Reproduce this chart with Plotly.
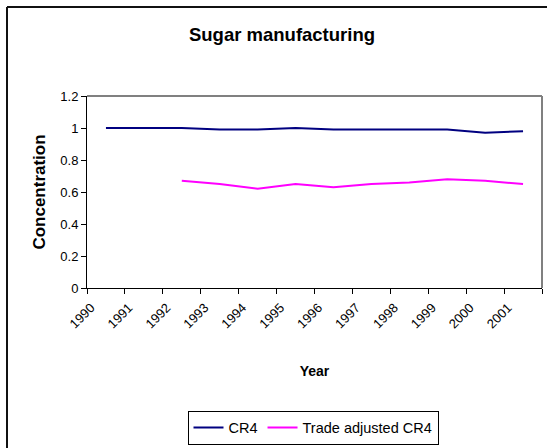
import plotly.graph_objects as go

years = ["1990", "1991", "1992", "1993", "1994", "1995", "1996", "1997", "1998", "1999", "2000", "2001"]
cr4 = [1.00, 1.00, 1.00, 0.99, 0.99, 1.00, 0.99, 0.99, 0.99, 0.99, 0.97, 0.98]
trade_years = ["1992", "1993", "1994", "1995", "1996", "1997", "1998", "1999", "2000", "2001"]
trade_cr4 = [0.67, 0.65, 0.62, 0.65, 0.63, 0.65, 0.66, 0.68, 0.67, 0.65]

W, H = 547, 448
L, R, T, B = 87, 5, 96, 159
pw, ph = W - L - R, H - T - B

def px2x(p):
    return (p - L) / pw

def px2y(p):
    return 1 - (p - T) / ph

FONT = "Liberation Sans, Arial, sans-serif"

fig = go.Figure()
fig.add_trace(go.Scatter(x=years, y=cr4, mode="lines", name="CR4",
                         line=dict(color="#000080", width=2)))
fig.add_trace(go.Scatter(x=trade_years, y=trade_cr4, mode="lines", name="Trade adjusted CR4",
                         line=dict(color="#FF00FF", width=2)))

shapes = [
    # outer chart border (left and top)
    dict(type="line", xref="paper", yref="paper", x0=px2x(7), x1=px2x(7), y0=px2y(6.5), y1=px2y(460),
         line=dict(color="#111", width=2)),
    dict(type="line", xref="paper", yref="paper", x0=px2x(7), x1=px2x(560), y0=px2y(6.5), y1=px2y(6.5),
         line=dict(color="#111", width=2)),
    # plot area top and right borders (gray)
    dict(type="line", xref="paper", yref="paper", x0=0, x1=1, y0=1, y1=1,
         line=dict(color="#808080", width=2)),
    dict(type="line", xref="paper", yref="paper", x0=1, x1=1, y0=0, y1=1,
         line=dict(color="#808080", width=2)),
]

fig.update_layout(
    width=W, height=H,
    margin=dict(l=L, r=R, t=T, b=B),
    paper_bgcolor="white", plot_bgcolor="white",
    font=dict(family=FONT, size=13, color="black"),
    title=dict(text="<b>Sugar manufacturing</b>", x=282 / W, xanchor="center",
               y=1 - 35 / H, yanchor="middle", yref="container", xref="container",
               font=dict(size=18.5, family=FONT, color="black")),
    showlegend=True,
    legend=dict(orientation="h", x=px2x(313), xanchor="center", y=px2y(427.5), yanchor="middle",
                bordercolor="black", borderwidth=1, bgcolor="white",
                font=dict(size=14.5, family=FONT), tracegroupgap=0, itemwidth=30),
    shapes=shapes,
    xaxis=dict(type="category", categoryorder="array", categoryarray=years,
               range=[-0.5, 11.5], tickson="boundaries", ticks="outside", ticklen=5,
               tickcolor="black", showline=True, linecolor="black", linewidth=1,
               showgrid=False, zeroline=False, tickangle=-45, ticklabelshift=-15,
               ticklabelstandoff=6,
               tickfont=dict(size=13, family=FONT),
               title=dict(text="<b>Year</b>", font=dict(size=14, family=FONT), standoff=35)),
    yaxis=dict(range=[0, 1.2], dtick=0.2, tick0=0, ticks="outside", ticklen=5, tickcolor="black",
               showline=True, linecolor="black", linewidth=1, showgrid=False, zeroline=False,
               tickfont=dict(size=13, family=FONT),
               title=dict(text="<b>Concentration</b>", font=dict(size=17, family=FONT), standoff=10)),
)

fig.write_html("out.html")
